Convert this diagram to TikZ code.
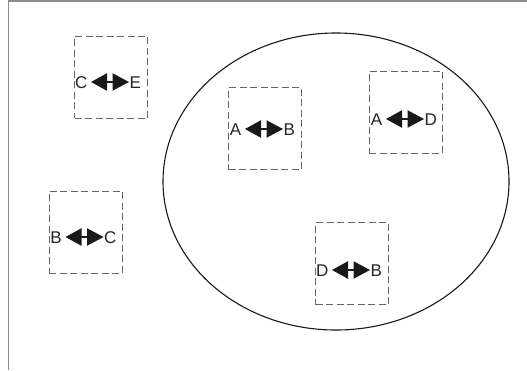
\documentclass[tikz,border=0pt]{standalone}
\usepackage{fontspec}
\setmainfont{Liberation Sans}
\usetikzlibrary{shapes.geometric}
\begin{document}
\begin{tikzpicture}[x=1pt,y=-1pt,
  framecol/.style={draw=black!45,line width=1.3pt},
  pairbox/.style={draw=black!60,dashed,dash pattern=on 7pt off 3.5pt,line width=0.8pt,
    minimum width=73pt,minimum height=82pt,inner sep=0pt},
  lbl/.style={inner sep=0pt,font=\fontsize{17}{20}\selectfont,text=black!85},
  dblarrow/.pic={
    \fill[black!90] (-19,0) -- (-3,-8.8) -- (-3,8.8) -- cycle;
    \fill[black!90] (19,0) -- (2.5,-8.8) -- (2.5,8.8) -- cycle;
    \draw[black!90,line width=1.6pt] (-3.5,0) -- (3,0);
  }]
\useasboundingbox (0,0) rectangle (527,370);
\fill[white] (0,0) rectangle (527,370);
% frame
\coordinate (ftr) at (527,1);
\coordinate (ftl) at (8.7,1);
\coordinate (fbl) at (8.7,370);
\draw[framecol] (ftr) -- (ftl) -- (fbl);
% set ellipse
\node[draw=black!90,line width=1.1pt,ellipse,minimum width=346pt,minimum height=297pt,inner sep=0pt] (set) at (336,181.5) {};
% boxes
\node[pairbox] (ce) at (111,77) {};
\node[pairbox] (ab) at (265,128.5) {};
\node[pairbox] (ad) at (405.5,112) {};
\node[pairbox] (bc) at (85.5,232) {};
\node[pairbox] (db) at (352,263.5) {};
% CE
\pic (ceA) at (110,82) {dblarrow};
\node[lbl,anchor=base east] (ceL) at (87.5,88) {C};
\node[lbl,anchor=base west] (ceR) at (129.5,88) {E};
% AB
\pic (abA) at (264,129) {dblarrow};
\node[lbl,anchor=base east] (abL) at (241.5,135) {A};
\node[lbl,anchor=base west] (abR) at (283.5,135) {B};
% AD
\pic (adA) at (405,119) {dblarrow};
\node[lbl,anchor=base east] (adL) at (382.5,125) {A};
\node[lbl,anchor=base west] (adR) at (424.5,125) {D};
% BC
\pic (bcA) at (84.5,237) {dblarrow};
\node[lbl,anchor=base east] (bcL) at (62,243) {B};
\node[lbl,anchor=base west] (bcR) at (104,243) {C};
% DB
\pic (dbA) at (351,270) {dblarrow};
\node[lbl,anchor=base east] (dbL) at (328.5,276) {D};
\node[lbl,anchor=base west] (dbR) at (370.5,276) {B};
\end{tikzpicture}
\end{document}
